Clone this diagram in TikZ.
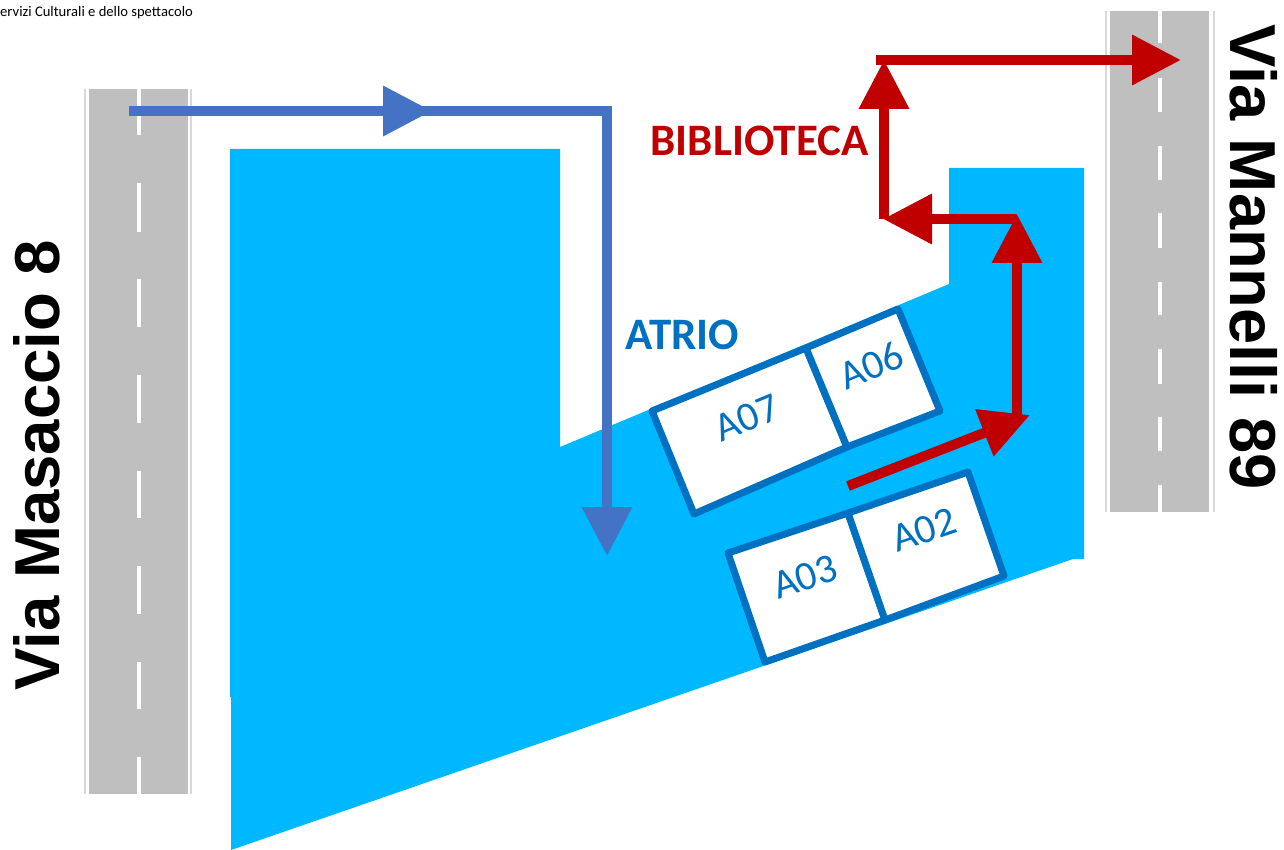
\documentclass[tikz,border=0pt]{standalone}
\usepackage{fontspec}
\setmainfont{Carlito}
\newfontfamily\roadfont{Liberation Sans}
\usetikzlibrary{arrows.meta}
\definecolor{areablue}{HTML}{00B8FF}
\definecolor{roomblue}{HTML}{0070C0}
\definecolor{pathblue}{HTML}{4472C4}
\definecolor{pathred}{HTML}{C00000}
\definecolor{roadgray}{HTML}{BFBFBF}
\tikzset{
	room/.style={draw=roomblue, line width=7pt, line join=round, fill=white},
	roomlabel/.style={text=roomblue, font=\fontsize{41}{41}\selectfont},
	bluepath/.style={draw=pathblue, line width=10pt, -{Triangle[length=49pt,width=48pt]}},
	redpath/.style={draw=pathred, line width=10pt, -{Triangle[length=49pt,width=48pt]}},
	roadname/.style={font=\fontsize{#1}{#1}\selectfont\roadfont\bfseries, text=black},
	pathname/.style={font=\fontsize{45}{45}\selectfont\bfseries},
}
\begin{document}
\begin{tikzpicture}[x=1pt,y=-1pt]
		\useasboundingbox (0,0) rectangle (1284,850);
		\fill[areablue] (230,149) -- (560,149) -- (560,447) -- (949,284) -- (949,168) -- (1084,168) -- (1084,559) -- (1073,559) -- (231,850) -- (231,697) -- (230,697) -- cycle;
		% left road
		\fill[roadgray] (89,89) rectangle (188,794);
		\draw[roadgray!60, line width=1.5pt] (85,89) -- (85,794);
		\draw[roadgray!60, line width=1.5pt] (191,89) -- (191,794);
		\foreach \i\j in {89/135,183/232,279/327,375/423,471/518,566/614,662/709,757/794}{
			\fill[white] (136.5,\i) rectangle (141,\j);
		}
		% right road
		\fill[roadgray] (1110,11) rectangle (1209,512);
		\draw[roadgray!60, line width=1.5pt] (1106,11) -- (1106,512);
		\draw[roadgray!60, line width=1.5pt] (1214,11) -- (1214,512);
		\foreach \i\j in {11/43,78/112,146/180,213/248,282/315,349/384,417/451,485/512}{
			\fill[white] (1157.5,\i) rectangle (1162,\j);
		}
		% rooms
		\draw[room] (652,411) -- (806,348) -- (847,447) -- (694,514) -- cycle;
		\draw[room] (806,348) -- (898,309) -- (940,411) -- (847,447) -- cycle;
		\draw[room] (728,553) -- (848,513) -- (885,620) -- (765,662) -- cycle;
		\draw[room] (848,513) -- (968,472) -- (1004,576) -- (885,620) -- cycle;
		\node[roomlabel, rotate=22.5] (a07) at (747,418) {A07};
		\node[roomlabel, rotate=22.5] (a06) at (871,365) {A06};
		\node[roomlabel, rotate=18.6] (a03) at (805,577) {A03};
		\node[roomlabel, rotate=18.6] (a02) at (924,530) {A02};
		% blue way in
		\coordinate (bluestart) at (129,111);
		\coordinate (bluehead) at (432,111);
		\coordinate (blueneck) at (410,111);
		\coordinate (bluecorner) at (607,111);
		\coordinate (bluejoin) at (607,515);
		\coordinate (blueend) at (607,556);
		\draw[draw=pathblue, line width=10pt, line join=miter] (blueneck) -- (bluecorner) -- (bluejoin);
		\draw[bluepath] (bluestart) -- (bluehead);
		\draw[bluepath] (bluecorner) -- (blueend);
		% red way out
		\coordinate (redstart) at (848,486);
		\coordinate (redone) at (1030,415);
		\coordinate (redtwo) at (1017,420);
		\coordinate (redthree) at (1017,214);
		\coordinate (redfour) at (1017,219);
		\coordinate (redfive) at (883,219);
		\coordinate (redsix) at (884,219);
		\coordinate (redseven) at (884,60);
		\coordinate (redeight) at (876,60);
		\coordinate (redend) at (1181,60);
		\draw[redpath] (redstart) -- (redone);
		\draw[redpath] (redtwo) -- (redthree);
		\draw[redpath] (redfour) -- (redfive);
		\draw[redpath] (redsix) -- (redseven);
		\draw[redpath] (redeight) -- (redend);
		% labels
		\node[pathname, text=pathred] (biblioteca) at (759.5,141) {BIBLIOTECA};
		\node[pathname, text=roomblue] (atrio) at (682.5,335) {ATRIO};
		\node[roadname=63.5, rotate=90] (masaccio) at (37,465) {Via Masaccio 8};
		\node[roadname=65, rotate=-90] (mannelli) at (1254,257) {Via Mannelli 89};
		\node[anchor=west, inner sep=0pt, font=\fontsize{14.6}{14.6}\selectfont] (servizi) at (0,13) {ervizi Culturali e dello spettacolo};
\end{tikzpicture}
\end{document}
